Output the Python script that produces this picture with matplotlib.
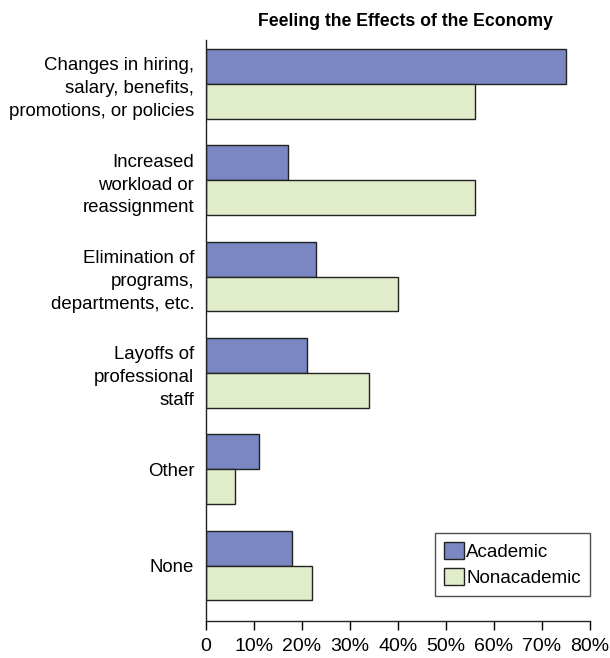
import matplotlib

matplotlib.use("Agg")
import matplotlib.pyplot as plt
import numpy as np

plt.rcParams["font.family"] = ["Liberation Sans", "DejaVu Sans"]

categories = [
    "Changes in hiring,\nsalary, benefits,\npromotions, or policies",
    "Increased\nworkload or\nreassignment",
    "Elimination of\nprograms,\ndepartments, etc.",
    "Layoffs of\nprofessional\nstaff",
    "Other",
    "None",
]
academic = [75, 17, 23, 21, 11, 18]
nonacademic = [56, 56, 40, 34, 6, 22]
xticks = [0, 10, 20, 30, 40, 50, 60, 70, 80]
xticklabels = ["0", "10%", "20%", "30%", "40%", "50%", "60%", "70%", "80%"]

fig = plt.figure(figsize=(6.10, 6.58), dpi=100)
ax = fig.add_axes([206 / 610, 1 - 621 / 658, 384 / 610, 581 / 658])

y = np.arange(len(categories))
h = 0.363
ax.barh(y - h / 2, academic, height=h, color="#7b87c2", edgecolor="#222222",
        linewidth=1.0, label="Academic")
ax.barh(y + h / 2, nonacademic, height=h, color="#e0ecca", edgecolor="#222222",
        linewidth=1.0, label="Nonacademic")

ax.set_xlim(0, 80)
ax.set_ylim(5.576, -0.455)
ax.set_yticks(y)
ax.set_yticklabels(categories, fontsize=13.4, ha="right", linespacing=1.45)
ax.tick_params(axis="y", length=0, pad=8.5)
ax.set_xticks(xticks)
ax.set_xticklabels(xticklabels, fontsize=14)
ax.tick_params(axis="x", direction="out", length=6.5, width=1, pad=6)
for s in ("top", "right"):
    ax.spines[s].set_visible(False)
for s in ("left", "bottom"):
    ax.spines[s].set_linewidth(1.0)
    ax.spines[s].set_color("#222222")

ax.set_title("Feeling the Effects of the Economy", fontsize=12.7, fontweight="bold",
             x=0.52, pad=10)

leg = ax.legend(loc="lower right", bbox_to_anchor=(1.0, 0.043), fontsize=13.5,
                frameon=True, fancybox=False, edgecolor="#222222",
                handlelength=1.05, handleheight=1.05, handletextpad=0.12,
                borderpad=0.5, labelspacing=0.35, borderaxespad=0)
leg.get_frame().set_linewidth(1.0)

fig.savefig("out.png", dpi=100)
